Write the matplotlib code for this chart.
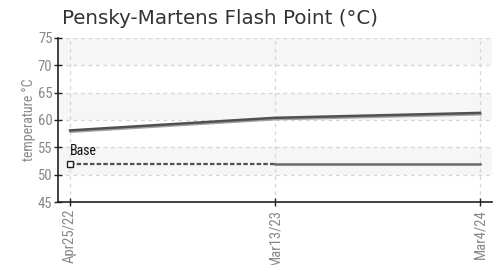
import matplotlib
matplotlib.use("Agg")
import matplotlib.pyplot as plt
import matplotlib.patheffects as pe
from matplotlib import font_manager as fm

dates = ["Apr25/22", "Mar13/23", "Mar4/24"]
flash_point = [58.1, 60.4, 61.3]
base_value = [52, 52, 52]
y_ticks = [45, 50, 55, 60, 65, 70, 75]

available = {f.name for f in fm.fontManager.ttflist}
narrow_family = "DejaVu Sans"
narrow_stretch = "condensed"
for cand in ["Roboto Condensed", "Liberation Sans Narrow", "Open Sans Condensed", "Arial Narrow"]:
    if cand in available:
        narrow_family = cand
        narrow_stretch = "normal"
        break

tick_color = "#888888"

fig = plt.figure(figsize=(5, 2.65), dpi=100)
ax = fig.add_axes([0.116, 0.2377, 0.868, 0.619])
x = list(range(len(dates)))

ax.set_xlim(-0.059, 2.059)
ax.set_ylim(45, 75)

for i in range(len(y_ticks) - 1):
    lo, hi = y_ticks[i], y_ticks[i + 1]
    if i % 2 == 1:
        ax.axhspan(lo, hi, color="#f6f6f6", zorder=0, lw=0)

for yt in y_ticks[1:]:
    ax.axhline(yt, color="#d6d6d6", lw=0.9, ls=(0, (3, 3)), zorder=1)
for xv in x:
    ax.axvline(xv, color="#d6d6d6", lw=0.9, ls=(0, (3, 3)), zorder=1)

ax.plot(x, flash_point, color="#505050", lw=1.8, zorder=4,
        path_effects=[pe.SimpleLineShadow(offset=(0.5, -1.0), shadow_color="#999999", alpha=0.9),
                      pe.Normal()])

ax.plot(x[:2], base_value[:2], color="#505050", lw=1.6, ls=(0, (2, 1)), zorder=4)
ax.plot(x[1:], base_value[1:], color="#6a6a6a", lw=1.8, zorder=4)
ax.plot([x[0]], [base_value[0]], marker="s", ms=4.5, mfc="white", mec="#222222", mew=1.0,
        ls="none", zorder=5, clip_on=False)
ax.annotate("Base", (x[0], base_value[0]), xytext=(0, 4), textcoords="offset points",
            ha="left", va="bottom", fontsize=10, family=narrow_family,
            stretch=narrow_stretch, color="#111111")

for s in ["top", "right"]:
    ax.spines[s].set_visible(False)
for s in ["left", "bottom"]:
    ax.spines[s].set_color("#222222")
    ax.spines[s].set_linewidth(1.2)

ax.set_yticks(y_ticks)
ax.set_xticks(x)
ax.set_xticklabels(dates, rotation=90)
ax.tick_params(axis="both", direction="inout", length=6, width=1, color="#222222",
               labelcolor=tick_color)
ax.tick_params(axis="x", pad=2, labelsize=10.5)
ax.tick_params(axis="y", pad=1, labelsize=10.5)
for lab in ax.get_xticklabels() + ax.get_yticklabels():
    lab.set_family(narrow_family)
    lab.set_stretch(narrow_stretch)

ax.set_ylabel("temperature °C", fontsize=10, color=tick_color, family=narrow_family,
              stretch=narrow_stretch, labelpad=1)

fig.text(0.124, 0.932, "Pensky-Martens Flash Point (°C)", fontsize=14.3, color="#333333",
         family=["DejaVu Sans"], ha="left", va="center")

fig.savefig("out.png", dpi=100)
